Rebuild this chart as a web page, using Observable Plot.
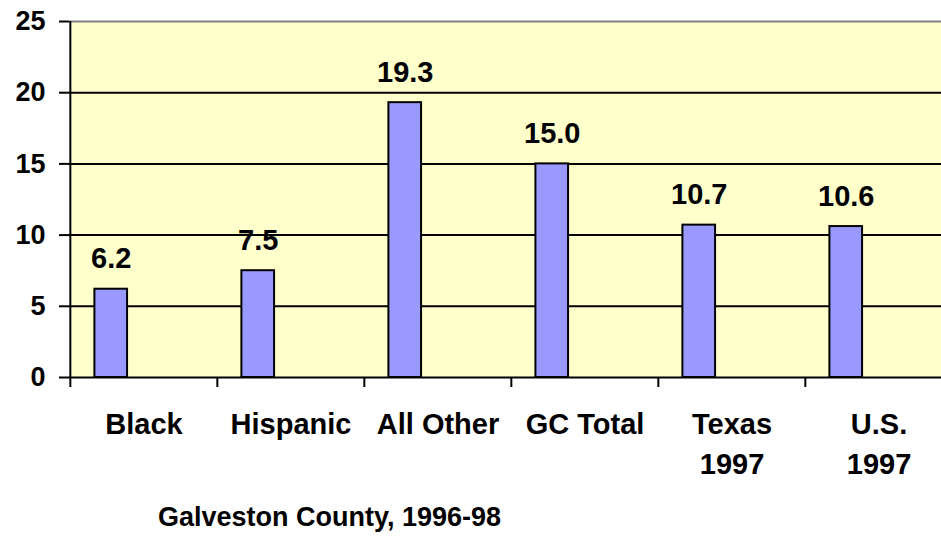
<!DOCTYPE html>
<html>
<head>
<meta charset="utf-8">
<script src="https://cdn.jsdelivr.net/npm/d3@7"></script>
<script src="https://cdn.jsdelivr.net/npm/@observablehq/plot@0.6"></script>
<style>
  html, body { margin: 0; padding: 0; background: #ffffff; }
  #wrap { position: relative; width: 941px; height: 537px; overflow: hidden; font-family: "Liberation Sans", Arial, sans-serif; }
  #caption { position: absolute; left: 158px; top: 503px; font-size: 27px; line-height: 28px; font-weight: bold; color: #000; white-space: nowrap; }
</style>
</head>
<body>
<div id="wrap">
  <div id="chart"></div>
  <div id="caption"></div>
</div>
<script>
const categories = ["Black", "Hispanic", "All Other", "GC Total", "Texas\n1997", "U.S.\n1997"];
const values = [6.2, 7.5, 19.3, 15.0, 10.7, 10.6];
const yTicks = [0, 5, 10, 15, 20, 25];
const gridTicks = [5, 10, 15, 20];
const captionText = "Galveston County, 1996-98";

const data = categories.map((c, i) => ({category: c, value: values[i]}));

const W = 941, H = 500;
const mL = 69, mR = -12, mT = 21, mB = 123;
const bw = (W - mL - mR) / categories.length;
const barLeft = 24.4, barW = 33;

const chart = Plot.plot({
  width: W,
  height: H,
  marginLeft: mL,
  marginRight: mR,
  marginTop: mT,
  marginBottom: mB,
  style: {fontFamily: "'Liberation Sans', Arial, sans-serif", color: "#000", overflow: "hidden", background: "white"},
  x: {domain: categories, padding: 0, axis: null},
  y: {domain: [0, 25], axis: null},
  marks: [
    Plot.frame({fill: "#FFFFCC", stroke: null}),
    Plot.ruleY(gridTicks, {stroke: "#000", strokeWidth: 2}),
    Plot.ruleY([25], {stroke: "#808080", strokeWidth: 2}),
    Plot.barY(data, {x: "category", y: "value", fill: "#9999FF", stroke: "#000", strokeWidth: 2,
      insetLeft: barLeft, insetRight: bw - barLeft - barW}),
    Plot.ruleY([0], {stroke: "#000", strokeWidth: 2}),
    Plot.ruleX([categories[0]], {x: d => d, y1: 0, y2: 25, dx: -bw / 2, stroke: "#000", strokeWidth: 2}),
    Plot.axisY({ticks: yTicks, tickSize: 10, tickPadding: 14, fontSize: 27, fontWeight: "bold", strokeWidth: 2, anchor: "left", label: null}),
    Plot.axisX({tickSize: 10, tickFormat: () => "", dx: -bw / 2, strokeWidth: 2, anchor: "bottom", label: null}),
    Plot.axisX({tickSize: 0, tickPadding: 28, fontSize: 29, fontWeight: "bold", lineHeight: 1.38, anchor: "bottom", label: null}),
    Plot.text(data, {x: "category", y: "value", text: d => d.value.toFixed(1),
      dx: -bw / 2 + barLeft + barW / 2, dy: -21, lineAnchor: "bottom", fontSize: 29, fontWeight: "bold", fill: "#000"})
  ]
});
document.getElementById("chart").appendChild(chart);
document.getElementById("caption").textContent = captionText;
</script>
</body>
</html>
